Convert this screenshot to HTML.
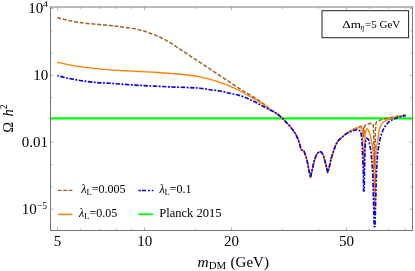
<!DOCTYPE html>
<html><head><meta charset="utf-8"><style>
html,body{margin:0;padding:0;background:#fff;}
svg{display:block;will-change:transform;font-family:"Liberation Serif",serif;}
</style></head><body>
<svg width="415" height="271" viewBox="0 0 415 271">
<rect width="415" height="271" fill="#fff"/>
<g fill="none" stroke-linejoin="round">
<line x1="50.5" y1="118.3" x2="412.5" y2="118.3" stroke="#00ff00" stroke-width="2.3"/>
<path d="M57.10 17.80 C60.92 18.60 71.18 21.32 80.00 22.60 C88.82 23.88 102.50 24.70 110.00 25.50 C117.50 26.30 120.00 26.67 125.00 27.40 C130.00 28.13 135.83 28.93 140.00 29.90 C144.17 30.87 146.67 31.98 150.00 33.20 C153.33 34.42 156.67 35.62 160.00 37.20 C163.33 38.78 166.67 40.70 170.00 42.70 C173.33 44.70 176.67 47.02 180.00 49.20 C183.33 51.38 186.67 53.60 190.00 55.80 C193.33 58.00 196.67 60.20 200.00 62.40 C203.33 64.60 206.67 66.78 210.00 69.00 C213.33 71.22 216.67 73.48 220.00 75.70 C223.33 77.92 226.67 80.08 230.00 82.30 C233.33 84.52 236.67 86.88 240.00 89.00 C243.33 91.12 246.67 92.95 250.00 95.00 C253.33 97.05 257.50 99.65 260.00 101.30 C262.50 102.95 263.33 103.60 265.00 104.90 C266.67 106.20 268.33 107.83 270.00 109.10 C271.67 110.37 273.33 111.33 275.00 112.50 C276.67 113.67 278.33 114.68 280.00 116.10 C281.67 117.52 283.33 119.28 285.00 121.00 C286.67 122.72 288.33 124.38 290.00 126.40 C291.67 128.42 293.67 131.00 295.00 133.10 C296.33 135.20 297.50 138.02 298.00 139.00 L299.60 143.90 L301.10 149.60 L304.00 151.20 L306.20 157.20 L307.20 161.10 L308.90 170.00 L310.50 177.50 L312.20 170.00 L314.40 160.00 L316.60 154.40 L318.80 152.00 L321.10 151.70 L323.30 155.00 L325.50 163.30 L327.70 172.40 L329.40 166.60 L331.00 158.90 L333.20 152.20 L335.80 144.60 L338.70 140.20 L342.00 137.20 L346.00 133.80 L352.00 129.80 L357.30 127.60 L361.75 126.10 L362.90 126.50 L363.40 129.00 L363.80 136.50 L364.20 129.00 L364.70 125.80 L365.30 125.30 L369.70 123.50 L372.40 123.10 L373.20 124.50 L373.50 130.00 L374.50 168.00 L375.50 130.00 L375.90 123.50 L376.60 121.80 L377.70 121.30 L380.80 119.90 L385.60 118.50 L390.40 117.50 L395.20 116.60 L400.00 115.90 L405.80 115.30" stroke="#9e632a" stroke-width="1.5" stroke-dasharray="4 1.8"/>
<path d="M57.20 62.20 C58.80 62.57 62.75 63.62 66.80 64.40 C70.85 65.18 76.58 66.20 81.50 66.90 C86.42 67.60 91.55 68.10 96.30 68.60 C101.05 69.10 105.25 69.53 110.00 69.90 C114.75 70.27 119.88 70.53 124.80 70.80 C129.72 71.07 134.58 71.25 139.50 71.50 C144.42 71.75 149.22 71.97 154.30 72.30 C159.38 72.63 166.58 73.27 170.00 73.50 C173.42 73.73 171.55 73.42 174.80 73.70 C178.05 73.98 185.30 74.67 189.50 75.20 C193.70 75.73 196.58 76.20 200.00 76.90 C203.42 77.60 206.67 78.50 210.00 79.40 C213.33 80.30 216.67 81.17 220.00 82.30 C223.33 83.43 226.67 84.75 230.00 86.20 C233.33 87.65 236.67 89.28 240.00 91.00 C243.33 92.72 246.67 94.60 250.00 96.50 C253.33 98.40 257.50 100.87 260.00 102.40 C262.50 103.93 263.33 104.52 265.00 105.70 C266.67 106.88 268.33 108.37 270.00 109.50 C271.67 110.63 273.33 111.40 275.00 112.50 C276.67 113.60 278.33 114.68 280.00 116.10 C281.67 117.52 283.33 119.28 285.00 121.00 C286.67 122.72 288.33 124.38 290.00 126.40 C291.67 128.42 293.67 131.00 295.00 133.10 C296.33 135.20 297.50 138.02 298.00 139.00 L299.60 143.90 L301.10 149.60 L304.00 151.20 L306.20 157.20 L307.20 161.10 L308.90 170.00 L310.50 177.50 L312.20 170.00 L314.40 160.00 L316.60 154.40 L318.80 152.00 L321.10 151.70 L323.30 155.00 L325.50 163.30 L327.70 172.40 L329.40 166.60 L331.00 158.90 L333.20 152.20 L335.80 144.60 L338.70 140.20 L342.00 137.20 L346.00 133.80 L352.00 130.20 L357.30 128.00 L360.90 127.50 L362.00 128.50 L362.45 131.00 L362.70 141.50 L363.35 154.00 L363.85 174.00 L364.40 154.00 L364.90 141.50 L365.15 134.20 L366.10 130.00 L367.10 128.80 L368.40 130.00 L369.30 132.40 L370.60 137.00 L372.00 143.30 L373.15 150.40 L373.80 174.00 L374.60 210.70 L375.40 174.00 L376.05 150.40 L377.20 144.20 L377.90 139.90 L378.50 134.60 L379.30 129.70 L380.90 125.30 L383.50 121.80 L387.00 120.00 L391.50 118.60 L393.30 117.50 L400.00 116.10 L405.80 115.30" stroke="#ff8000" stroke-width="1.4"/>
<path d="M57.20 75.50 C58.80 75.92 62.75 77.13 66.80 78.00 C70.85 78.87 76.58 79.95 81.50 80.70 C86.42 81.45 91.55 82.07 96.30 82.50 C101.05 82.93 105.25 82.98 110.00 83.30 C114.75 83.62 119.88 84.05 124.80 84.40 C129.72 84.75 134.58 85.12 139.50 85.40 C144.42 85.68 149.22 85.85 154.30 86.10 C159.38 86.35 164.13 86.65 170.00 86.90 C175.87 87.15 184.50 87.38 189.50 87.60 C194.50 87.82 196.58 87.85 200.00 88.20 C203.42 88.55 206.67 89.23 210.00 89.70 C213.33 90.17 216.67 90.40 220.00 91.00 C223.33 91.60 226.67 92.53 230.00 93.30 C233.33 94.07 236.67 94.57 240.00 95.60 C243.33 96.63 246.67 97.98 250.00 99.50 C253.33 101.02 256.67 102.95 260.00 104.70 C263.33 106.45 267.50 108.70 270.00 110.00 C272.50 111.30 273.33 111.48 275.00 112.50 C276.67 113.52 278.33 114.68 280.00 116.10 C281.67 117.52 283.33 119.28 285.00 121.00 C286.67 122.72 288.33 124.38 290.00 126.40 C291.67 128.42 293.67 131.00 295.00 133.10 C296.33 135.20 297.50 138.02 298.00 139.00 L299.60 143.90 L301.10 149.60 L304.00 151.20 L306.20 157.20 L307.20 161.10 L308.90 170.00 L310.50 177.50 L312.20 170.00 L314.40 160.00 L316.60 154.40 L318.80 152.00 L321.10 151.70 L323.30 155.00 L325.50 163.30 L327.70 172.40 L329.40 166.60 L331.00 158.90 L333.20 152.20 L335.80 144.60 L338.70 140.20 L342.00 137.20 L346.00 133.80 L352.00 131.00 L356.40 129.70 L358.50 130.00 L360.00 131.00 L360.90 132.30 L361.50 136.50 L361.95 141.00 L362.60 154.00 L363.35 174.00 L363.55 191.00 L364.25 191.00 L364.40 174.00 L364.90 154.00 L365.30 143.00 L366.00 139.50 L366.80 138.30 L368.00 139.00 L369.00 140.60 L369.70 145.00 L371.00 151.00 L372.80 174.00 L373.30 194.00 L373.90 214.00 L374.15 226.60 L375.05 226.60 L375.30 214.00 L375.90 194.00 L376.40 174.00 L377.70 152.00 L378.60 147.70 L380.40 137.00 L382.40 131.50 L384.20 127.60 L386.60 124.30 L389.40 121.40 L393.30 119.30 L398.10 117.30 L403.90 115.90 L405.80 115.40" stroke="#0000ff" stroke-width="1.65" stroke-dasharray="1.9 1.5 4.4 1.5"/>
</g>
<g stroke="#858585" stroke-width="0.62"><line x1="57.50" y1="230.50" x2="57.50" y2="227.30"/><line x1="57.50" y1="7.00" x2="57.50" y2="10.20"/><line x1="80.38" y1="230.50" x2="80.38" y2="228.60"/><line x1="80.38" y1="7.00" x2="80.38" y2="8.90"/><line x1="99.73" y1="230.50" x2="99.73" y2="228.60"/><line x1="99.73" y1="7.00" x2="99.73" y2="8.90"/><line x1="116.49" y1="230.50" x2="116.49" y2="228.60"/><line x1="116.49" y1="7.00" x2="116.49" y2="8.90"/><line x1="131.27" y1="230.50" x2="131.27" y2="228.60"/><line x1="131.27" y1="7.00" x2="131.27" y2="8.90"/><line x1="144.50" y1="230.50" x2="144.50" y2="227.30"/><line x1="144.50" y1="7.00" x2="144.50" y2="10.20"/><line x1="195.39" y1="230.50" x2="195.39" y2="228.60"/><line x1="195.39" y1="7.00" x2="195.39" y2="8.90"/><line x1="231.50" y1="230.50" x2="231.50" y2="227.30"/><line x1="231.50" y1="7.00" x2="231.50" y2="10.20"/><line x1="282.39" y1="230.50" x2="282.39" y2="228.60"/><line x1="282.39" y1="7.00" x2="282.39" y2="8.90"/><line x1="318.49" y1="230.50" x2="318.49" y2="228.60"/><line x1="318.49" y1="7.00" x2="318.49" y2="8.90"/><line x1="346.50" y1="230.50" x2="346.50" y2="227.30"/><line x1="346.50" y1="7.00" x2="346.50" y2="10.20"/><line x1="369.38" y1="230.50" x2="369.38" y2="228.60"/><line x1="369.38" y1="7.00" x2="369.38" y2="8.90"/><line x1="388.73" y1="230.50" x2="388.73" y2="228.60"/><line x1="388.73" y1="7.00" x2="388.73" y2="8.90"/><line x1="405.49" y1="230.50" x2="405.49" y2="228.60"/><line x1="405.49" y1="7.00" x2="405.49" y2="8.90"/><line x1="50.50" y1="8.40" x2="53.70" y2="8.40"/><line x1="412.50" y1="8.40" x2="409.30" y2="8.40"/><line x1="50.50" y1="30.71" x2="52.40" y2="30.71"/><line x1="412.50" y1="30.71" x2="410.60" y2="30.71"/><line x1="50.50" y1="53.02" x2="52.40" y2="53.02"/><line x1="412.50" y1="53.02" x2="410.60" y2="53.02"/><line x1="50.50" y1="75.33" x2="53.70" y2="75.33"/><line x1="412.50" y1="75.33" x2="409.30" y2="75.33"/><line x1="50.50" y1="97.64" x2="52.40" y2="97.64"/><line x1="412.50" y1="97.64" x2="410.60" y2="97.64"/><line x1="50.50" y1="119.95" x2="52.40" y2="119.95"/><line x1="412.50" y1="119.95" x2="410.60" y2="119.95"/><line x1="50.50" y1="142.26" x2="53.70" y2="142.26"/><line x1="412.50" y1="142.26" x2="409.30" y2="142.26"/><line x1="50.50" y1="164.57" x2="52.40" y2="164.57"/><line x1="412.50" y1="164.57" x2="410.60" y2="164.57"/><line x1="50.50" y1="186.88" x2="52.40" y2="186.88"/><line x1="412.50" y1="186.88" x2="410.60" y2="186.88"/><line x1="50.50" y1="209.19" x2="53.70" y2="209.19"/><line x1="412.50" y1="209.19" x2="409.30" y2="209.19"/></g>
<rect x="50.5" y="7" width="362" height="223.5" fill="none" stroke="#767676" stroke-width="1"/>
<g fill="#000" font-size="14px">
<text transform="translate(48.30,79.90) scale(1.075,1)" text-anchor="end">10</text>
<text transform="translate(48.10,146.80) scale(1.075,1)" text-anchor="end">0.01</text>
<text transform="translate(43.20,13.30) scale(1.075,1)" text-anchor="end">10</text>
<text transform="translate(43.00,7.30) scale(1.075,1)" text-anchor="start" font-size="9px">4</text>
<text transform="translate(36.70,213.90) scale(1.075,1)" text-anchor="end">10</text>
<text transform="translate(37.00,208.90) scale(1.000,1)" text-anchor="start" font-size="9.5px">&#8722;5</text>
<text transform="translate(57.50,246.20) scale(1.075,1)" text-anchor="middle">5</text>
<text transform="translate(144.80,246.20) scale(1.075,1)" text-anchor="middle">10</text>
<text transform="translate(231.50,246.20) scale(1.075,1)" text-anchor="middle">20</text>
<text transform="translate(346.50,246.20) scale(1.075,1)" text-anchor="middle">50</text>
<text transform="translate(197.6,267.1) scale(1.03,1)" font-size="15px"><tspan font-style="italic">m</tspan><tspan font-size="10.5px" dy="2.2">DM</tspan></text>
<text x="230.6" y="267.1" font-size="15px">(GeV)</text>
<text transform="translate(12.9,132.8) rotate(-90)" font-size="14.5px">&#937;<tspan font-style="italic" dx="5.5">h</tspan><tspan font-size="10px" dy="-6.3">2</tspan></text>
</g>
<rect x="322" y="10.7" width="86.6" height="27" fill="#fff" stroke="#222" stroke-width="1"/>
<text transform="translate(342.3,27.5) scale(1.2,1)" font-size="11px">&#916;m</text>
<text x="360.5" y="29.6" font-size="7.5px" font-style="italic">&#951;</text>
<text x="365.1" y="27.5" font-size="11px">=5 GeV</text>
<g fill="none">
<line x1="57.8" y1="190.4" x2="72.4" y2="190.4" stroke="#9e632a" stroke-width="1.4" stroke-dasharray="3.9 1.5"/>
<line x1="58.2" y1="214.4" x2="72.3" y2="214.4" stroke="#ff8000" stroke-width="1.5"/>
<path d="M138.4 190.5H140.8M142.1 190.5H146.1M148.1 190.5H149.9M151.7 190.5H153.4" stroke="#0000ff" stroke-width="1.6"/>
<line x1="138.4" y1="214.3" x2="153" y2="214.3" stroke="#00ff00" stroke-width="1.8"/>
</g>
<g font-size="12px" fill="#000">
<text x="81.3" y="192.8"><tspan font-style="italic">&#955;</tspan><tspan font-size="8.5px" dy="2">L</tspan><tspan dy="-2">=0.005</tspan></text>
<text x="79" y="216.5"><tspan font-style="italic">&#955;</tspan><tspan font-size="8.5px" dy="2">L</tspan><tspan dy="-2">=0.05</tspan></text>
<text x="159.4" y="192.9"><tspan font-style="italic">&#955;</tspan><tspan font-size="8.5px" dy="2">L</tspan><tspan dy="-2">=0.1</tspan></text>
<text transform="translate(159.2,216.5) scale(1.045,1)">Planck 2015</text>
</g>
</svg>
</body></html>
